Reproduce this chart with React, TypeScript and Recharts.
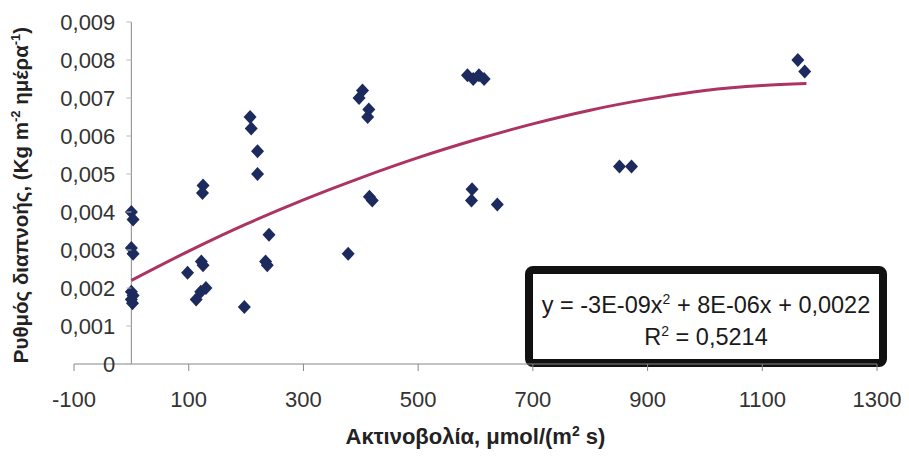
import React from 'react';
import { ComposedChart, Scatter, Line, XAxis, YAxis, ReferenceLine, Customized } from 'recharts';

// Measured points: radiation (µmol m-2 s-1) vs transpiration rate (Kg m-2 day-1)
const radiation = [
  0, 3, 0, 3, 0, 3, 0, 2,
  98, 122, 125, 113, 121, 130, 125, 124,
  197, 207, 209, 220, 220, 234, 237, 240,
  397, 403, 412, 414, 415, 420, 378,
  586, 596, 606, 615, 594, 593, 638,
  851, 872, 1162, 1174,
];
const transpiration = [
  0.004, 0.0038, 0.00305, 0.0029, 0.0019, 0.0018, 0.0017, 0.0016,
  0.0024, 0.0027, 0.0026, 0.0017, 0.0019, 0.002, 0.0047, 0.0045,
  0.0015, 0.0065, 0.0062, 0.0056, 0.005, 0.0027, 0.0026, 0.0034,
  0.007, 0.0072, 0.0065, 0.0067, 0.0044, 0.0043, 0.0029,
  0.0076, 0.0075, 0.0076, 0.0075, 0.0046, 0.0043, 0.0042,
  0.0052, 0.0052, 0.008, 0.0077,
];

// Polynomial trend line
const trendX = [0, 100, 200, 300, 400, 500, 600, 700, 800, 900, 1000, 1100, 1177];
const trendY = [0.0022, 0.00297, 0.00368, 0.00432, 0.0049, 0.00543, 0.0059, 0.00632, 0.00668, 0.00697, 0.0072, 0.00733, 0.00738];

const xTicks = [-100, 100, 300, 500, 700, 900, 1100, 1300];
const yTicks = [0, 0.001, 0.002, 0.003, 0.004, 0.005, 0.006, 0.007, 0.008, 0.009];

const points = radiation.map((x, i) => ({ x, y: transpiration[i] }));
const trend = trendX.map((x, i) => ({ x, y: trendY[i] }));

const W = 909;
const H = 456;
const PLOT_LEFT = 74;
const M = { top: 22, right: 32, bottom: 0, left: 0 };
const X_MIN = -100;
const X_MAX = 1300;
const PLOT_W = W - PLOT_LEFT - M.right;
const AXIS_X = PLOT_LEFT + (PLOT_W * (0 - X_MIN)) / (X_MAX - X_MIN);
const FONT = '"Liberation Sans", Arial, sans-serif';

const fmtY = (v: number) => (v === 0 ? '0' : v.toFixed(3).replace('.', ','));

const Diamond = (props: any) => {
  const { cx, cy } = props;
  if (cx == null || cy == null) return null;
  return (
    <path
      d={`M${cx},${cy - 7} L${cx + 6.5},${cy} L${cx},${cy + 7} L${cx - 6.5},${cy} Z`}
      fill="#1d2a5e"
    />
  );
};

const YTick = (props: any) => {
  const { y, payload } = props;
  return (
    <g>
      <line x1={AXIS_X - 5} x2={AXIS_X} y1={y} y2={y} stroke="#bbb" strokeWidth={1} />
      <text
        x={AXIS_X - 16}
        y={y}
        textAnchor="end"
        dominantBaseline="central"
        fontFamily={FONT}
        fontSize={22}
        fill="#333"
      >
        {fmtY(payload.value)}
      </text>
    </g>
  );
};

const Annotations = () => {
  const plotMidY = M.top + (364 - M.top) / 2;
  return (
    <g>
      <text
        x={PLOT_LEFT + PLOT_W / 2}
        y={444}
        textAnchor="middle"
        fontFamily={FONT}
        fontSize={22}
        fontWeight="bold"
        fill="#222"
      >
        Ακτινοβολία, μmol/(m
        <tspan dy={-8} fontSize={14}>2</tspan>
        <tspan dy={8}> s)</tspan>
      </text>
      <text
        transform={`translate(28, ${plotMidY + 2}) rotate(-90)`}
        textAnchor="middle"
        fontFamily={FONT}
        fontSize={20.5}
        fontWeight="bold"
        fill="#222"
      >
        Ρυθμός διαπνοής, (Kg m
        <tspan dy={-8} fontSize={13}>-2</tspan>
        <tspan dy={8}> ημέρα</tspan>
        <tspan dy={-8} fontSize={13}>-1</tspan>
        <tspan dy={8}>)</tspan>
      </text>
      <rect x={529} y={270} width={354} height={93} rx={4} fill="#fff" stroke="#111" strokeWidth={8} />
      <text x={706} y={313} textAnchor="middle" fontFamily={FONT} fontSize={23.5} fill="#1a1a1a">
        y = -3E-09x
        <tspan dy={-9} fontSize={14}>2</tspan>
        <tspan dy={9}> + 8E-06x + 0,0022</tspan>
      </text>
      <text x={706} y={345} textAnchor="middle" fontFamily={FONT} fontSize={23.5} fill="#1a1a1a">
        R
        <tspan dy={-9} fontSize={14}>2</tspan>
        <tspan dy={9}> = 0,5214</tspan>
      </text>
    </g>
  );
};

export default function App() {
  return (
    <div style={{ position: 'absolute', left: 0, top: 0, width: W, height: H, background: '#fff' }}>
      <ComposedChart width={W} height={H} margin={M}>
        <XAxis
          type="number"
          dataKey="x"
          domain={[X_MIN, X_MAX]}
          ticks={xTicks}
          interval={0}
          allowDataOverflow
          height={92}
          axisLine={{ stroke: '#888' }}
          tickLine={{ stroke: '#888' }}
          tickSize={7}
          tickMargin={20}
          tick={{ fontFamily: FONT, fontSize: 22, fill: '#333' }}
        />
        <YAxis
          type="number"
          dataKey="y"
          domain={[0, 0.009]}
          ticks={yTicks}
          interval={0}
          allowDataOverflow
          width={PLOT_LEFT}
          axisLine={false}
          tickLine={false}
          tick={YTick}
        />
        <ReferenceLine x={0} stroke="#888" strokeWidth={1} />
        <Line
          data={trend}
          dataKey="y"
          type="monotone"
          stroke="#ad3462"
          strokeWidth={3}
          dot={false}
          activeDot={false}
          isAnimationActive={false}
        />
        <Scatter data={points} dataKey="y" shape={Diamond} isAnimationActive={false} />
        <Customized component={Annotations} />
      </ComposedChart>
    </div>
  );
}
